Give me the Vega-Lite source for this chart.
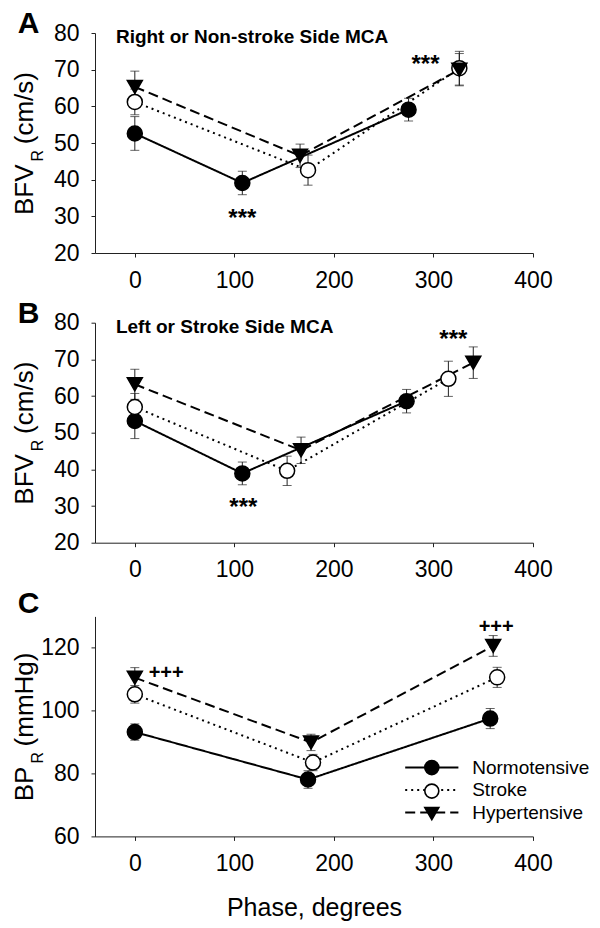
{
  "$schema": "https://vega.github.io/schema/vega-lite/v6.json",
  "padding": {"left": 11, "top": 9, "right": 0, "bottom": 0},
  "background": "white",
  "config": {
    "font": "Liberation Sans",
    "view": {"stroke": null},
    "axis": {
      "grid": false,
      "domainColor": "#222",
      "tickColor": "#222",
      "labelColor": "black",
      "titleColor": "black",
      "labelFontSize": 23,
      "titleFontSize": 25,
      "titleFontWeight": "normal",
      "tickSize": 4,
      "labelPadding": 12,
      "labelFlush": false,
      "labelOverlap": false,
      "labelFont": "Liberation Sans",
      "titleFont": "Liberation Sans"
    }
  },
  "datasets": {
    "means": [
      {"panel": "A", "group": "Normotensive", "phase": 0, "mean": 52.6, "se": 4.6},
      {"panel": "A", "group": "Normotensive", "phase": 108, "mean": 39.1, "se": 3.2},
      {"panel": "A", "group": "Normotensive", "phase": 275, "mean": 59.1, "se": 3.1},
      {"panel": "A", "group": "Stroke", "phase": 0, "mean": 61.2, "se": 3.5},
      {"panel": "A", "group": "Stroke", "phase": 174, "mean": 42.6, "se": 4.1},
      {"panel": "A", "group": "Stroke", "phase": 326, "mean": 70.4, "se": 4.6},
      {"panel": "A", "group": "Hypertensive", "phase": 0, "mean": 65.3, "se": 4.3},
      {"panel": "A", "group": "Hypertensive", "phase": 166, "mean": 46.5, "se": 3.2},
      {"panel": "A", "group": "Hypertensive", "phase": 326, "mean": 70.0, "se": 4.4},
      {"panel": "B", "group": "Normotensive", "phase": 0, "mean": 53.2, "se": 4.8},
      {"panel": "B", "group": "Normotensive", "phase": 108, "mean": 38.9, "se": 3.1},
      {"panel": "B", "group": "Normotensive", "phase": 273, "mean": 58.6, "se": 3.2},
      {"panel": "B", "group": "Stroke", "phase": 0, "mean": 57.0, "se": 3.7},
      {"panel": "B", "group": "Stroke", "phase": 153, "mean": 39.6, "se": 4.0},
      {"panel": "B", "group": "Stroke", "phase": 315, "mean": 64.7, "se": 4.8},
      {"panel": "B", "group": "Hypertensive", "phase": 0, "mean": 63.2, "se": 4.1},
      {"panel": "B", "group": "Hypertensive", "phase": 167, "mean": 45.2, "se": 3.6},
      {"panel": "B", "group": "Hypertensive", "phase": 340, "mean": 69.1, "se": 4.3},
      {"panel": "C", "group": "Normotensive", "phase": 0, "mean": 93.2, "se": 2.6},
      {"panel": "C", "group": "Normotensive", "phase": 174, "mean": 78.1, "se": 2.8},
      {"panel": "C", "group": "Normotensive", "phase": 357, "mean": 97.5, "se": 3.2},
      {"panel": "C", "group": "Stroke", "phase": 0, "mean": 105.2, "se": 2.8},
      {"panel": "C", "group": "Stroke", "phase": 179, "mean": 83.5, "se": 2.6},
      {"panel": "C", "group": "Stroke", "phase": 364, "mean": 110.6, "se": 3.2},
      {"panel": "C", "group": "Hypertensive", "phase": 0, "mean": 110.5, "se": 3.2},
      {"panel": "C", "group": "Hypertensive", "phase": 177, "mean": 89.9, "se": 2.6},
      {"panel": "C", "group": "Hypertensive", "phase": 360, "mean": 120.6, "se": 3.3}
    ],
    "notes": [
      {"panel": "A", "kind": "mark", "phase": 108, "mean": 27.3, "label": "***"},
      {"panel": "A", "kind": "mark", "phase": 292, "mean": 69.3, "label": "***"},
      {"panel": "A", "kind": "heading", "phase": -19, "mean": 77.4, "label": "Right or Non-stroke Side MCA"},
      {"panel": "A", "kind": "letter", "phase": -117.5, "mean": 80, "label": "A"},
      {"panel": "A", "kind": "sub", "phase": -97.6, "mean": 46.5, "label": "R"},
      {"panel": "B", "kind": "mark", "phase": 109, "mean": 27.6, "label": "***"},
      {"panel": "B", "kind": "mark", "phase": 320, "mean": 73.4, "label": "***"},
      {"panel": "B", "kind": "heading", "phase": -19, "mean": 77.3, "label": "Left or Stroke Side MCA"},
      {"panel": "B", "kind": "letter", "phase": -117.5, "mean": 80, "label": "B"},
      {"panel": "B", "kind": "sub", "phase": -97.6, "mean": 46.5, "label": "R"},
      {"panel": "C", "kind": "mark", "phase": 31.5, "mean": 110.2, "label": "+++"},
      {"panel": "C", "kind": "mark", "phase": 363, "mean": 124.8, "label": "+++"},
      {"panel": "C", "kind": "letter", "phase": -117.5, "mean": 131.2, "label": "C"},
      {"panel": "C", "kind": "sub", "phase": -97.6, "mean": 85.0, "label": "R"}
    ]
  },
  "spacing": 6.7,
  "resolve": {"scale": {"shape": "independent", "fill": "independent", "strokeDash": "independent"}, "legend": {"shape": "independent", "fill": "independent", "strokeDash": "independent"}},
  "vconcat": [
    {
      "width": 438, "height": 220,
      "data": {"name": "means"},
      "transform": [{"filter": "datum.panel === 'A'"}],
      "encoding": {
        "x": {"field": "phase", "type": "quantitative", "scale": {"domain": [-40, 400], "nice": false, "zero": false}, "axis": {"values": [0, 100, 200, 300, 400], "title": null}},
        "y": {"field": "mean", "type": "quantitative", "scale": {"domain": [20, 80], "nice": false, "zero": false}, "axis": {"values": [20, 30, 40, 50, 60, 70, 80], "title": "BFV\u2002 (cm/s)", "titleFontSize": 26, "titleX": -62.6, "titleBaseline": "alphabetic"}}
      },
      "layer": [
        {"mark": {"type": "line", "color": "black", "strokeWidth": 2},
         "encoding": {"strokeDash": {"field": "group", "type": "nominal", "scale": {"domain": ["Normotensive", "Stroke", "Hypertensive"], "range": [[1, 0], [2, 4], [10, 5]]}, "legend": null}}},
        {"mark": {"type": "errorbar", "ticks": {"size": 9}, "color": "#222", "thickness": 1},
         "encoding": {"yError": {"field": "se"}, "detail": {"field": "group"}}},
        {"mark": {"type": "point", "filled": true, "stroke": "black", "strokeWidth": 1.5, "size": 225, "opacity": 1},
         "encoding": {
           "shape": {"field": "group", "type": "nominal", "scale": {"domain": ["Normotensive", "Stroke", "Hypertensive"], "range": ["circle", "circle", "triangle-down"]}, "legend": null},
           "fill": {"field": "group", "type": "nominal", "scale": {"domain": ["Normotensive", "Stroke", "Hypertensive"], "range": ["black", "white", "black"]}, "legend": null}}},
        {"data": {"name": "notes"}, "transform": [{"filter": "datum.panel === 'A' && datum.kind === 'mark'"}],
         "mark": {"type": "text", "fontSize": 24, "fontWeight": "bold", "baseline": "alphabetic", "align": "center", "color": "black"},
         "encoding": {"text": {"field": "label"}}},
        {"data": {"name": "notes"}, "transform": [{"filter": "datum.panel === 'A' && datum.kind === 'heading'"}],
         "mark": {"type": "text", "fontSize": 19, "fontWeight": "bold", "baseline": "alphabetic", "align": "left", "color": "black"},
         "encoding": {"text": {"field": "label"}}},
        {"data": {"name": "notes"}, "transform": [{"filter": "datum.panel === 'A' && datum.kind === 'letter'"}],
         "mark": {"type": "text", "fontSize": 30, "fontWeight": "bold", "baseline": "alphabetic", "align": "left", "color": "black"},
         "encoding": {"text": {"field": "label"}}},
        {"data": {"name": "notes"}, "transform": [{"filter": "datum.panel === 'A' && datum.kind === 'sub'"}],
         "mark": {"type": "text", "fontSize": 16, "baseline": "middle", "align": "center", "angle": 270, "color": "black"},
         "encoding": {"text": {"field": "label"}}}
      ]
    },
    {
      "width": 438, "height": 220,
      "data": {"name": "means"},
      "transform": [{"filter": "datum.panel === 'B'"}],
      "encoding": {
        "x": {"field": "phase", "type": "quantitative", "scale": {"domain": [-40, 400], "nice": false, "zero": false}, "axis": {"values": [0, 100, 200, 300, 400], "title": null}},
        "y": {"field": "mean", "type": "quantitative", "scale": {"domain": [20, 80], "nice": false, "zero": false}, "axis": {"values": [20, 30, 40, 50, 60, 70, 80], "title": "BFV\u2002 (cm/s)", "titleFontSize": 26, "titleX": -62.6, "titleBaseline": "alphabetic"}}
      },
      "layer": [
        {"mark": {"type": "line", "color": "black", "strokeWidth": 2},
         "encoding": {"strokeDash": {"field": "group", "type": "nominal", "scale": {"domain": ["Normotensive", "Stroke", "Hypertensive"], "range": [[1, 0], [2, 4], [10, 5]]}, "legend": null}}},
        {"mark": {"type": "errorbar", "ticks": {"size": 9}, "color": "#222", "thickness": 1},
         "encoding": {"yError": {"field": "se"}, "detail": {"field": "group"}}},
        {"mark": {"type": "point", "filled": true, "stroke": "black", "strokeWidth": 1.5, "size": 225, "opacity": 1},
         "encoding": {
           "shape": {"field": "group", "type": "nominal", "scale": {"domain": ["Normotensive", "Stroke", "Hypertensive"], "range": ["circle", "circle", "triangle-down"]}, "legend": null},
           "fill": {"field": "group", "type": "nominal", "scale": {"domain": ["Normotensive", "Stroke", "Hypertensive"], "range": ["black", "white", "black"]}, "legend": null}}},
        {"data": {"name": "notes"}, "transform": [{"filter": "datum.panel === 'B' && datum.kind === 'mark'"}],
         "mark": {"type": "text", "fontSize": 24, "fontWeight": "bold", "baseline": "alphabetic", "align": "center", "color": "black"},
         "encoding": {"text": {"field": "label"}}},
        {"data": {"name": "notes"}, "transform": [{"filter": "datum.panel === 'B' && datum.kind === 'heading'"}],
         "mark": {"type": "text", "fontSize": 19, "fontWeight": "bold", "baseline": "alphabetic", "align": "left", "color": "black"},
         "encoding": {"text": {"field": "label"}}},
        {"data": {"name": "notes"}, "transform": [{"filter": "datum.panel === 'B' && datum.kind === 'letter'"}],
         "mark": {"type": "text", "fontSize": 30, "fontWeight": "bold", "baseline": "alphabetic", "align": "left", "color": "black"},
         "encoding": {"text": {"field": "label"}}},
        {"data": {"name": "notes"}, "transform": [{"filter": "datum.panel === 'B' && datum.kind === 'sub'"}],
         "mark": {"type": "text", "fontSize": 16, "baseline": "middle", "align": "center", "angle": 270, "color": "black"},
         "encoding": {"text": {"field": "label"}}}
      ]
    },
    {
      "width": 438, "height": 220,
      "data": {"name": "means"},
      "transform": [{"filter": "datum.panel === 'C'"}],
      "encoding": {
        "x": {"field": "phase", "type": "quantitative", "scale": {"domain": [-40, 400], "nice": false, "zero": false}, "axis": {"values": [0, 100, 200, 300, 400], "title": "Phase, degrees", "titlePadding": 20}},
        "y": {"field": "mean", "type": "quantitative", "scale": {"domain": [60, 130], "nice": false, "zero": false}, "axis": {"values": [60, 80, 100, 120], "title": "BP\u2002 (mmHg)", "titleFontSize": 26, "titleX": -62.6, "titleBaseline": "alphabetic"}}
      },
      "layer": [
        {"mark": {"type": "line", "color": "black", "strokeWidth": 2},
         "encoding": {"strokeDash": {"field": "group", "type": "nominal", "scale": {"domain": ["Normotensive", "Stroke", "Hypertensive"], "range": [[1, 0], [2, 4], [10, 5]]},
           "legend": {
             "orient": "none", "legendX": 310.7, "legendY": 141.7, "title": null, "padding": 0,
             "symbolType": "M-3.8,0L3.8,0", "symbolSize": 196, "symbolStrokeWidth": 2, "symbolStrokeColor": "black",
             "labelFont": "Liberation Sans", "labelFontSize": 19, "labelColor": "black",
             "symbolOffset": 16.6, "labelOffset": 30.9, "rowPadding": 2.5
           }}}},
        {"mark": {"type": "errorbar", "ticks": {"size": 9}, "color": "#222", "thickness": 1},
         "encoding": {"yError": {"field": "se"}, "detail": {"field": "group"}}},
        {"mark": {"type": "point", "filled": true, "stroke": "black", "strokeWidth": 1.5, "size": 225, "opacity": 1},
         "encoding": {
           "shape": {"field": "group", "type": "nominal",
             "scale": {"domain": ["Stroke", "Normotensive", "Hypertensive"], "range": ["circle", "circle", "triangle-down"]},
             "legend": {
               "values": ["Normotensive", "Stroke", "Hypertensive"],
               "orient": "none", "legendX": 310.7, "legendY": 141.7, "title": null, "padding": 0,
               "symbolSize": 196, "symbolStrokeWidth": 1.6, "symbolOpacity": 1,
               "labelFont": "Liberation Sans", "labelFontSize": 19, "labelColor": "black", "labelOpacity": 0,
               "symbolOffset": 16.6, "labelOffset": 30.9, "rowPadding": 2.5
             }},
           "fill": {"field": "group", "type": "nominal",
             "scale": {"domain": ["Stroke", "Normotensive", "Hypertensive"], "range": ["white", "black", "black"]},
             "legend": {
               "values": ["Normotensive", "Stroke", "Hypertensive"],
               "orient": "none", "legendX": 310.7, "legendY": 141.7, "title": null, "padding": 0,
               "symbolSize": 196, "symbolStrokeWidth": 1.6, "symbolOpacity": 1,
               "labelFont": "Liberation Sans", "labelFontSize": 19, "labelColor": "black", "labelOpacity": 0,
               "symbolOffset": 16.6, "labelOffset": 30.9, "rowPadding": 2.5
             }}}},
        {"data": {"name": "notes"}, "transform": [{"filter": "datum.panel === 'C' && datum.kind === 'mark'"}],
         "mark": {"type": "text", "fontSize": 20, "fontWeight": "bold", "baseline": "alphabetic", "align": "center", "color": "black"},
         "encoding": {"text": {"field": "label"}}},
        {"data": {"name": "notes"}, "transform": [{"filter": "datum.panel === 'C' && datum.kind === 'letter'"}],
         "mark": {"type": "text", "fontSize": 30, "fontWeight": "bold", "baseline": "alphabetic", "align": "left", "color": "black"},
         "encoding": {"text": {"field": "label"}}},
        {"data": {"name": "notes"}, "transform": [{"filter": "datum.panel === 'C' && datum.kind === 'sub'"}],
         "mark": {"type": "text", "fontSize": 16, "baseline": "middle", "align": "center", "angle": 270, "color": "black"},
         "encoding": {"text": {"field": "label"}}}
      ]
    }
  ]
}
